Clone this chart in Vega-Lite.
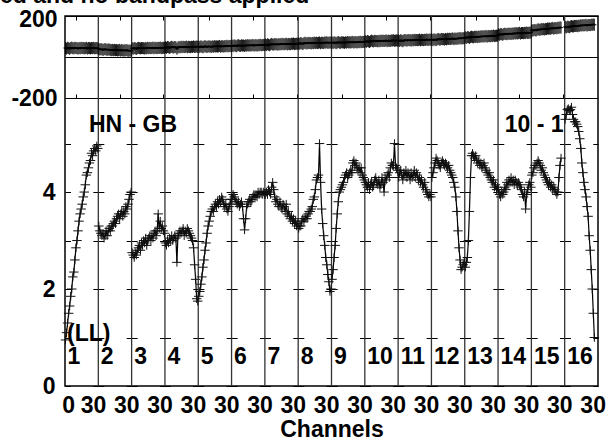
{
"$schema": "https://vega.github.io/schema/vega-lite/v6.json",
"width": 533, "height": 370,
"autosize": "none",
"padding": {"left": 65, "top": 16, "right": 8, "bottom": 54},
"background": "white",
"config": {
  "view": {"stroke": "black", "strokeWidth": 1.5},
  "font": "Liberation Sans",
  "axis": {"labelFont": "Liberation Sans", "labelFontWeight": "bold", "labelFontSize": 23, "labelColor": "black", "titleFont": "Liberation Sans", "titleFontWeight": "bold", "titleFontSize": 23, "titleColor": "black", "labelOverlap": false, "labelFlush": false, "labelBound": false}
},
"title": {"text": "ed and no bandpass applied", "anchor": "start", "frame": "group", "dx": -65, "offset": -18, "baseline": "alphabetic", "font": "Liberation Sans", "fontWeight": "bold", "fontSize": 23, "color": "black"},
"data": {"values": [
{"i":1,"c":0,"a":0.95,"p":44},{"i":1,"c":1,"a":1.1,"p":41},{"i":1,"c":2,"a":1.3,"p":45},{"i":1,"c":3,"a":1.5,"p":43},{"i":1,"c":4,"a":1.65,"p":40},{"i":1,"c":5,"a":1.85,"p":44},{"i":1,"c":6,"a":2.0,"p":46},{"i":1,"c":7,"a":2.25,"p":43},{"i":1,"c":8,"a":2.35,"p":42},{"i":1,"c":9,"a":2.6,"p":45},{"i":1,"c":10,"a":2.85,"p":44},{"i":1,"c":11,"a":3.0,"p":43},{"i":1,"c":12,"a":3.2,"p":41},{"i":1,"c":13,"a":3.4,"p":44},{"i":1,"c":14,"a":3.55,"p":42},{"i":1,"c":15,"a":3.65,"p":45},{"i":1,"c":16,"a":3.75,"p":43},{"i":1,"c":17,"a":3.9,"p":44},{"i":1,"c":18,"a":4.0,"p":42},{"i":1,"c":19,"a":4.15,"p":43},{"i":1,"c":20,"a":4.35,"p":45},{"i":1,"c":21,"a":4.4,"p":41},{"i":1,"c":22,"a":4.5,"p":44},{"i":1,"c":23,"a":4.6,"p":43},{"i":1,"c":24,"a":4.65,"p":42},{"i":1,"c":25,"a":4.8,"p":44},{"i":1,"c":26,"a":4.75,"p":43},{"i":1,"c":27,"a":4.85,"p":45},{"i":1,"c":28,"a":4.9,"p":42},{"i":1,"c":29,"a":4.85,"p":43},{"i":1,"c":30,"a":4.95,"p":44},{"i":1,"c":31,"a":4.9,"p":42},
{"i":2,"c":0,"a":3.3,"p":39},{"i":2,"c":1,"a":3.2,"p":36},{"i":2,"c":2,"a":3.15,"p":39},{"i":2,"c":3,"a":3.1,"p":37},{"i":2,"c":4,"a":3.15,"p":34},{"i":2,"c":5,"a":3.05,"p":37},{"i":2,"c":6,"a":3.1,"p":39},{"i":2,"c":7,"a":3.2,"p":36},{"i":2,"c":8,"a":3.1,"p":35},{"i":2,"c":9,"a":3.2,"p":37},{"i":2,"c":10,"a":3.25,"p":36},{"i":2,"c":11,"a":3.2,"p":35},{"i":2,"c":12,"a":3.3,"p":33},{"i":2,"c":13,"a":3.3,"p":35},{"i":2,"c":14,"a":3.35,"p":33},{"i":2,"c":15,"a":3.4,"p":35},{"i":2,"c":16,"a":3.35,"p":33},{"i":2,"c":17,"a":3.45,"p":34},{"i":2,"c":18,"a":3.5,"p":32},{"i":2,"c":19,"a":3.55,"p":33},{"i":2,"c":20,"a":3.45,"p":35},{"i":2,"c":21,"a":3.55,"p":31},{"i":2,"c":22,"a":3.6,"p":34},{"i":2,"c":23,"a":3.5,"p":32},{"i":2,"c":24,"a":3.6,"p":31},{"i":2,"c":25,"a":3.55,"p":33},{"i":2,"c":26,"a":3.7,"p":32},{"i":2,"c":27,"a":3.65,"p":34},{"i":2,"c":28,"a":3.75,"p":30},{"i":2,"c":29,"a":3.85,"p":31},{"i":2,"c":30,"a":3.95,"p":32},{"i":2,"c":31,"a":4.0,"p":30},
{"i":3,"c":0,"a":2.75,"p":43},{"i":3,"c":1,"a":2.7,"p":40},{"i":3,"c":2,"a":2.65,"p":44},{"i":3,"c":3,"a":2.75,"p":42},{"i":3,"c":4,"a":2.7,"p":39},{"i":3,"c":5,"a":2.8,"p":43},{"i":3,"c":6,"a":2.85,"p":45},{"i":3,"c":7,"a":2.9,"p":43},{"i":3,"c":8,"a":2.8,"p":42},{"i":3,"c":9,"a":2.95,"p":44},{"i":3,"c":10,"a":2.9,"p":43},{"i":3,"c":11,"a":3.0,"p":43},{"i":3,"c":12,"a":2.95,"p":41},{"i":3,"c":13,"a":3.05,"p":44},{"i":3,"c":14,"a":2.9,"p":42},{"i":3,"c":15,"a":3.0,"p":45},{"i":3,"c":16,"a":3.05,"p":43},{"i":3,"c":17,"a":3.1,"p":44},{"i":3,"c":18,"a":3.0,"p":43},{"i":3,"c":19,"a":3.1,"p":44},{"i":3,"c":20,"a":3.05,"p":46},{"i":3,"c":21,"a":3.15,"p":42},{"i":3,"c":22,"a":3.2,"p":45},{"i":3,"c":23,"a":3.1,"p":44},{"i":3,"c":24,"a":3.2,"p":43},{"i":3,"c":25,"a":3.55,"p":45},{"i":3,"c":26,"a":3.25,"p":44},{"i":3,"c":27,"a":3.4,"p":46},{"i":3,"c":28,"a":3.25,"p":43},{"i":3,"c":29,"a":3.3,"p":44},{"i":3,"c":30,"a":3.2,"p":45},{"i":3,"c":31,"a":3.15,"p":44},
{"i":4,"c":0,"a":2.95,"p":48},{"i":4,"c":1,"a":2.9,"p":45},{"i":4,"c":2,"a":3.0,"p":49},{"i":4,"c":3,"a":2.95,"p":47},{"i":4,"c":4,"a":3.05,"p":44},{"i":4,"c":5,"a":3.0,"p":48},{"i":4,"c":6,"a":3.1,"p":50},{"i":4,"c":7,"a":3.0,"p":47},{"i":4,"c":8,"a":3.05,"p":46},{"i":4,"c":9,"a":3.1,"p":49},{"i":4,"c":10,"a":3.05,"p":48},{"i":4,"c":11,"a":2.55,"p":40},{"i":4,"c":12,"a":3.1,"p":46},{"i":4,"c":13,"a":3.15,"p":49},{"i":4,"c":14,"a":3.2,"p":47},{"i":4,"c":15,"a":3.15,"p":50},{"i":4,"c":16,"a":3.2,"p":48},{"i":4,"c":17,"a":3.25,"p":50},{"i":4,"c":18,"a":3.1,"p":48},{"i":4,"c":19,"a":3.2,"p":49},{"i":4,"c":20,"a":3.15,"p":51},{"i":4,"c":21,"a":3.25,"p":47},{"i":4,"c":22,"a":3.2,"p":50},{"i":4,"c":23,"a":3.15,"p":49},{"i":4,"c":24,"a":3.1,"p":48},{"i":4,"c":25,"a":3.05,"p":50},{"i":4,"c":26,"a":3.0,"p":49},{"i":4,"c":27,"a":2.85,"p":52},{"i":4,"c":28,"a":2.5,"p":49},{"i":4,"c":29,"a":2.2,"p":50},{"i":4,"c":30,"a":1.8,"p":51},{"i":4,"c":31,"a":1.75,"p":50},
{"i":5,"c":0,"a":1.85,"p":51},{"i":5,"c":1,"a":1.95,"p":48},{"i":5,"c":2,"a":2.1,"p":52},{"i":5,"c":3,"a":2.25,"p":50},{"i":5,"c":4,"a":2.45,"p":47},{"i":5,"c":5,"a":2.6,"p":51},{"i":5,"c":6,"a":2.8,"p":53},{"i":5,"c":7,"a":2.95,"p":50},{"i":5,"c":8,"a":3.15,"p":49},{"i":5,"c":9,"a":3.3,"p":52},{"i":5,"c":10,"a":3.4,"p":51},{"i":5,"c":11,"a":3.5,"p":51},{"i":5,"c":12,"a":3.6,"p":49},{"i":5,"c":13,"a":3.65,"p":52},{"i":5,"c":14,"a":3.6,"p":50},{"i":5,"c":15,"a":3.7,"p":53},{"i":5,"c":16,"a":3.75,"p":51},{"i":5,"c":17,"a":3.7,"p":52},{"i":5,"c":18,"a":3.8,"p":51},{"i":5,"c":19,"a":3.75,"p":52},{"i":5,"c":20,"a":3.85,"p":54},{"i":5,"c":21,"a":3.8,"p":50},{"i":5,"c":22,"a":3.9,"p":53},{"i":5,"c":23,"a":3.85,"p":52},{"i":5,"c":24,"a":3.75,"p":51},{"i":5,"c":25,"a":3.7,"p":53},{"i":5,"c":26,"a":3.75,"p":52},{"i":5,"c":27,"a":3.65,"p":55},{"i":5,"c":28,"a":3.6,"p":52},{"i":5,"c":29,"a":3.7,"p":53},{"i":5,"c":30,"a":3.75,"p":54},{"i":5,"c":31,"a":3.85,"p":53},
{"i":6,"c":0,"a":3.85,"p":56},{"i":6,"c":1,"a":3.95,"p":53},{"i":6,"c":2,"a":3.9,"p":57},{"i":6,"c":3,"a":3.85,"p":55},{"i":6,"c":4,"a":3.8,"p":52},{"i":6,"c":5,"a":3.75,"p":56},{"i":6,"c":6,"a":3.8,"p":58},{"i":6,"c":7,"a":3.7,"p":55},{"i":6,"c":8,"a":3.75,"p":54},{"i":6,"c":9,"a":3.8,"p":57},{"i":6,"c":10,"a":3.7,"p":56},{"i":6,"c":11,"a":3.45,"p":56},{"i":6,"c":12,"a":3.22,"p":54},{"i":6,"c":13,"a":3.45,"p":57},{"i":6,"c":14,"a":3.7,"p":55},{"i":6,"c":15,"a":3.75,"p":58},{"i":6,"c":16,"a":3.8,"p":56},{"i":6,"c":17,"a":3.85,"p":57},{"i":6,"c":18,"a":3.8,"p":56},{"i":6,"c":19,"a":3.85,"p":57},{"i":6,"c":20,"a":3.9,"p":59},{"i":6,"c":21,"a":3.95,"p":55},{"i":6,"c":22,"a":3.9,"p":58},{"i":6,"c":23,"a":3.95,"p":57},{"i":6,"c":24,"a":3.9,"p":56},{"i":6,"c":25,"a":4.0,"p":58},{"i":6,"c":26,"a":3.95,"p":57},{"i":6,"c":27,"a":4.0,"p":60},{"i":6,"c":28,"a":4.0,"p":57},{"i":6,"c":29,"a":3.95,"p":58},{"i":6,"c":30,"a":4.0,"p":59},{"i":6,"c":31,"a":3.95,"p":58},
{"i":7,"c":0,"a":3.95,"p":61},{"i":7,"c":1,"a":4.0,"p":58},{"i":7,"c":2,"a":3.95,"p":62},{"i":7,"c":3,"a":4.05,"p":60},{"i":7,"c":4,"a":4.0,"p":57},{"i":7,"c":5,"a":3.95,"p":61},{"i":7,"c":6,"a":4.1,"p":64},{"i":7,"c":7,"a":4.2,"p":61},{"i":7,"c":8,"a":4.05,"p":60},{"i":7,"c":9,"a":3.9,"p":63},{"i":7,"c":10,"a":3.8,"p":62},{"i":7,"c":11,"a":3.85,"p":62},{"i":7,"c":12,"a":3.75,"p":60},{"i":7,"c":13,"a":3.7,"p":63},{"i":7,"c":14,"a":3.8,"p":61},{"i":7,"c":15,"a":3.7,"p":64},{"i":7,"c":16,"a":3.65,"p":62},{"i":7,"c":17,"a":3.75,"p":64},{"i":7,"c":18,"a":3.7,"p":62},{"i":7,"c":19,"a":3.6,"p":63},{"i":7,"c":20,"a":3.75,"p":65},{"i":7,"c":21,"a":3.55,"p":61},{"i":7,"c":22,"a":3.6,"p":64},{"i":7,"c":23,"a":3.5,"p":63},{"i":7,"c":24,"a":3.45,"p":62},{"i":7,"c":25,"a":3.5,"p":65},{"i":7,"c":26,"a":3.4,"p":64},{"i":7,"c":27,"a":3.45,"p":66},{"i":7,"c":28,"a":3.35,"p":63},{"i":7,"c":29,"a":3.4,"p":64},{"i":7,"c":30,"a":3.3,"p":65},{"i":7,"c":31,"a":3.35,"p":64},
{"i":8,"c":0,"a":3.25,"p":67},{"i":8,"c":1,"a":3.3,"p":64},{"i":8,"c":2,"a":3.3,"p":68},{"i":8,"c":3,"a":3.4,"p":66},{"i":8,"c":4,"a":3.45,"p":63},{"i":8,"c":5,"a":3.4,"p":67},{"i":8,"c":6,"a":3.45,"p":70},{"i":8,"c":7,"a":3.5,"p":67},{"i":8,"c":8,"a":3.45,"p":66},{"i":8,"c":9,"a":3.55,"p":69},{"i":8,"c":10,"a":3.6,"p":68},{"i":8,"c":11,"a":3.6,"p":68},{"i":8,"c":12,"a":3.65,"p":66},{"i":8,"c":13,"a":3.7,"p":69},{"i":8,"c":14,"a":3.85,"p":67},{"i":8,"c":15,"a":3.9,"p":70},{"i":8,"c":16,"a":4.05,"p":68},{"i":8,"c":17,"a":4.25,"p":70},{"i":8,"c":18,"a":4.3,"p":68},{"i":8,"c":19,"a":4.35,"p":69},{"i":8,"c":20,"a":5.0,"p":71},{"i":8,"c":21,"a":4.2,"p":67},{"i":8,"c":22,"a":3.65,"p":70},{"i":8,"c":23,"a":3.35,"p":69},{"i":8,"c":24,"a":3.1,"p":68},{"i":8,"c":25,"a":2.9,"p":71},{"i":8,"c":26,"a":2.65,"p":70},{"i":8,"c":27,"a":2.5,"p":72},{"i":8,"c":28,"a":2.3,"p":69},{"i":8,"c":29,"a":2.15,"p":70},{"i":8,"c":30,"a":1.95,"p":71},{"i":8,"c":31,"a":2.0,"p":70},
{"i":9,"c":0,"a":2.2,"p":71},{"i":9,"c":1,"a":2.4,"p":68},{"i":9,"c":2,"a":2.65,"p":72},{"i":9,"c":3,"a":2.9,"p":70},{"i":9,"c":4,"a":3.25,"p":67},{"i":9,"c":5,"a":3.55,"p":71},{"i":9,"c":6,"a":3.8,"p":73},{"i":9,"c":7,"a":4.0,"p":70},{"i":9,"c":8,"a":4.05,"p":69},{"i":9,"c":9,"a":4.1,"p":72},{"i":9,"c":10,"a":4.15,"p":71},{"i":9,"c":11,"a":4.2,"p":71},{"i":9,"c":12,"a":4.3,"p":69},{"i":9,"c":13,"a":4.35,"p":72},{"i":9,"c":14,"a":4.4,"p":70},{"i":9,"c":15,"a":4.3,"p":73},{"i":9,"c":16,"a":4.35,"p":71},{"i":9,"c":17,"a":4.4,"p":72},{"i":9,"c":18,"a":4.45,"p":71},{"i":9,"c":19,"a":4.4,"p":72},{"i":9,"c":20,"a":4.6,"p":74},{"i":9,"c":21,"a":4.65,"p":70},{"i":9,"c":22,"a":4.55,"p":73},{"i":9,"c":23,"a":4.6,"p":72},{"i":9,"c":24,"a":4.5,"p":71},{"i":9,"c":25,"a":4.45,"p":73},{"i":9,"c":26,"a":4.5,"p":72},{"i":9,"c":27,"a":4.4,"p":75},{"i":9,"c":28,"a":4.5,"p":72},{"i":9,"c":29,"a":4.35,"p":73},{"i":9,"c":30,"a":4.3,"p":74},{"i":9,"c":31,"a":4.25,"p":73},
{"i":10,"c":0,"a":4.2,"p":77},{"i":10,"c":1,"a":4.15,"p":74},{"i":10,"c":2,"a":4.1,"p":78},{"i":10,"c":3,"a":4.2,"p":76},{"i":10,"c":4,"a":4.05,"p":73},{"i":10,"c":5,"a":4.15,"p":77},{"i":10,"c":6,"a":4.2,"p":80},{"i":10,"c":7,"a":4.1,"p":77},{"i":10,"c":8,"a":4.15,"p":76},{"i":10,"c":9,"a":4.25,"p":79},{"i":10,"c":10,"a":4.3,"p":78},{"i":10,"c":11,"a":4.2,"p":78},{"i":10,"c":12,"a":4.15,"p":76},{"i":10,"c":13,"a":4.25,"p":79},{"i":10,"c":14,"a":4.1,"p":77},{"i":10,"c":15,"a":4.15,"p":80},{"i":10,"c":16,"a":4.3,"p":78},{"i":10,"c":17,"a":4.2,"p":80},{"i":10,"c":18,"a":4.0,"p":78},{"i":10,"c":19,"a":4.3,"p":79},{"i":10,"c":20,"a":4.25,"p":81},{"i":10,"c":21,"a":4.35,"p":77},{"i":10,"c":22,"a":4.4,"p":80},{"i":10,"c":23,"a":4.3,"p":79},{"i":10,"c":24,"a":4.5,"p":78},{"i":10,"c":25,"a":4.6,"p":81},{"i":10,"c":26,"a":4.55,"p":80},{"i":10,"c":27,"a":4.55,"p":82},{"i":10,"c":28,"a":5.0,"p":79},{"i":10,"c":29,"a":4.55,"p":80},{"i":10,"c":30,"a":4.5,"p":81},{"i":10,"c":31,"a":4.45,"p":80},
{"i":11,"c":0,"a":4.3,"p":81},{"i":11,"c":1,"a":4.4,"p":78},{"i":11,"c":2,"a":4.45,"p":82},{"i":11,"c":3,"a":4.35,"p":80},{"i":11,"c":4,"a":4.25,"p":77},{"i":11,"c":5,"a":4.4,"p":81},{"i":11,"c":6,"a":4.35,"p":83},{"i":11,"c":7,"a":4.45,"p":81},{"i":11,"c":8,"a":4.3,"p":80},{"i":11,"c":9,"a":4.4,"p":83},{"i":11,"c":10,"a":4.35,"p":82},{"i":11,"c":11,"a":4.25,"p":82},{"i":11,"c":12,"a":4.4,"p":80},{"i":11,"c":13,"a":4.3,"p":83},{"i":11,"c":14,"a":4.35,"p":81},{"i":11,"c":15,"a":4.45,"p":84},{"i":11,"c":16,"a":4.3,"p":82},{"i":11,"c":17,"a":4.4,"p":83},{"i":11,"c":18,"a":4.35,"p":82},{"i":11,"c":19,"a":4.25,"p":83},{"i":11,"c":20,"a":4.3,"p":85},{"i":11,"c":21,"a":4.2,"p":81},{"i":11,"c":22,"a":4.25,"p":84},{"i":11,"c":23,"a":4.15,"p":83},{"i":11,"c":24,"a":4.1,"p":82},{"i":11,"c":25,"a":4.2,"p":84},{"i":11,"c":26,"a":4.05,"p":83},{"i":11,"c":27,"a":4.0,"p":86},{"i":11,"c":28,"a":3.95,"p":83},{"i":11,"c":29,"a":3.9,"p":84},{"i":11,"c":30,"a":3.95,"p":85},{"i":11,"c":31,"a":3.9,"p":84},
{"i":12,"c":0,"a":4.3,"p":85},{"i":12,"c":1,"a":4.4,"p":82},{"i":12,"c":2,"a":4.5,"p":86},{"i":12,"c":3,"a":4.6,"p":84},{"i":12,"c":4,"a":4.7,"p":82},{"i":12,"c":5,"a":4.65,"p":86},{"i":12,"c":6,"a":4.6,"p":88},{"i":12,"c":7,"a":4.55,"p":85},{"i":12,"c":8,"a":4.5,"p":85},{"i":12,"c":9,"a":4.6,"p":88},{"i":12,"c":10,"a":4.65,"p":87},{"i":12,"c":11,"a":4.6,"p":87},{"i":12,"c":12,"a":4.55,"p":85},{"i":12,"c":13,"a":4.6,"p":88},{"i":12,"c":14,"a":4.55,"p":86},{"i":12,"c":15,"a":4.5,"p":89},{"i":12,"c":16,"a":4.55,"p":88},{"i":12,"c":17,"a":4.45,"p":89},{"i":12,"c":18,"a":4.4,"p":88},{"i":12,"c":19,"a":4.35,"p":89},{"i":12,"c":20,"a":4.3,"p":91},{"i":12,"c":21,"a":4.2,"p":87},{"i":12,"c":22,"a":4.1,"p":90},{"i":12,"c":23,"a":3.9,"p":89},{"i":12,"c":24,"a":3.6,"p":89},{"i":12,"c":25,"a":3.2,"p":91},{"i":12,"c":26,"a":2.85,"p":90},{"i":12,"c":27,"a":2.6,"p":93},{"i":12,"c":28,"a":2.4,"p":90},{"i":12,"c":29,"a":2.45,"p":91},{"i":12,"c":30,"a":2.5,"p":92},{"i":12,"c":31,"a":2.55,"p":91},
{"i":13,"c":0,"a":2.45,"p":96},{"i":13,"c":1,"a":2.55,"p":93},{"i":13,"c":2,"a":2.65,"p":97},{"i":13,"c":3,"a":3.0,"p":96},{"i":13,"c":4,"a":3.6,"p":93},{"i":13,"c":5,"a":4.3,"p":97},{"i":13,"c":6,"a":4.75,"p":99},{"i":13,"c":7,"a":4.8,"p":97},{"i":13,"c":8,"a":4.75,"p":96},{"i":13,"c":9,"a":4.7,"p":99},{"i":13,"c":10,"a":4.75,"p":98},{"i":13,"c":11,"a":4.65,"p":99},{"i":13,"c":12,"a":4.6,"p":97},{"i":13,"c":13,"a":4.65,"p":100},{"i":13,"c":14,"a":4.55,"p":98},{"i":13,"c":15,"a":4.6,"p":101},{"i":13,"c":16,"a":4.5,"p":100},{"i":13,"c":17,"a":4.55,"p":101},{"i":13,"c":18,"a":4.6,"p":100},{"i":13,"c":19,"a":4.5,"p":101},{"i":13,"c":20,"a":4.45,"p":103},{"i":13,"c":21,"a":4.4,"p":99},{"i":13,"c":22,"a":4.35,"p":102},{"i":13,"c":23,"a":4.4,"p":102},{"i":13,"c":24,"a":4.3,"p":101},{"i":13,"c":25,"a":4.25,"p":103},{"i":13,"c":26,"a":4.2,"p":102},{"i":13,"c":27,"a":4.25,"p":105},{"i":13,"c":28,"a":4.1,"p":102},{"i":13,"c":29,"a":4.15,"p":103},{"i":13,"c":30,"a":4.05,"p":104},{"i":13,"c":31,"a":4.1,"p":104},
{"i":14,"c":0,"a":4.05,"p":111},{"i":14,"c":1,"a":3.95,"p":108},{"i":14,"c":2,"a":3.9,"p":112},{"i":14,"c":3,"a":4.0,"p":111},{"i":14,"c":4,"a":3.95,"p":108},{"i":14,"c":5,"a":4.0,"p":112},{"i":14,"c":6,"a":4.1,"p":114},{"i":14,"c":7,"a":4.05,"p":112},{"i":14,"c":8,"a":4.2,"p":111},{"i":14,"c":9,"a":4.15,"p":114},{"i":14,"c":10,"a":4.25,"p":113},{"i":14,"c":11,"a":4.2,"p":114},{"i":14,"c":12,"a":4.3,"p":112},{"i":14,"c":13,"a":4.2,"p":115},{"i":14,"c":14,"a":4.25,"p":113},{"i":14,"c":15,"a":4.15,"p":116},{"i":14,"c":16,"a":4.25,"p":115},{"i":14,"c":17,"a":4.2,"p":116},{"i":14,"c":18,"a":4.15,"p":115},{"i":14,"c":19,"a":4.2,"p":116},{"i":14,"c":20,"a":4.15,"p":118},{"i":14,"c":21,"a":4.1,"p":114},{"i":14,"c":22,"a":4.05,"p":117},{"i":14,"c":23,"a":3.95,"p":117},{"i":14,"c":24,"a":3.9,"p":116},{"i":14,"c":25,"a":4.0,"p":118},{"i":14,"c":26,"a":3.65,"p":117},{"i":14,"c":27,"a":3.95,"p":120},{"i":14,"c":28,"a":4.05,"p":117},{"i":14,"c":29,"a":4.15,"p":118},{"i":14,"c":30,"a":4.2,"p":119},{"i":14,"c":31,"a":4.1,"p":119},
{"i":15,"c":0,"a":4.35,"p":131},{"i":15,"c":1,"a":4.4,"p":128},{"i":15,"c":2,"a":4.5,"p":132},{"i":15,"c":3,"a":4.55,"p":131},{"i":15,"c":4,"a":4.55,"p":129},{"i":15,"c":5,"a":4.6,"p":133},{"i":15,"c":6,"a":4.65,"p":135},{"i":15,"c":7,"a":4.6,"p":133},{"i":15,"c":8,"a":4.55,"p":133},{"i":15,"c":9,"a":4.45,"p":136},{"i":15,"c":10,"a":4.5,"p":135},{"i":15,"c":11,"a":4.4,"p":136},{"i":15,"c":12,"a":4.35,"p":134},{"i":15,"c":13,"a":4.3,"p":137},{"i":15,"c":14,"a":4.25,"p":136},{"i":15,"c":15,"a":4.2,"p":139},{"i":15,"c":16,"a":4.15,"p":138},{"i":15,"c":17,"a":4.2,"p":139},{"i":15,"c":18,"a":4.1,"p":138},{"i":15,"c":19,"a":4.15,"p":140},{"i":15,"c":20,"a":4.05,"p":142},{"i":15,"c":21,"a":4.1,"p":138},{"i":15,"c":22,"a":4.05,"p":141},{"i":15,"c":23,"a":4.0,"p":141},{"i":15,"c":24,"a":3.95,"p":140},{"i":15,"c":25,"a":4.0,"p":143},{"i":15,"c":26,"a":4.3,"p":142},{"i":15,"c":27,"a":4.55,"p":145},{"i":15,"c":28,"a":4.7,"p":143},
{"i":16,"c":0,"a":5.5,"p":147},{"i":16,"c":1,"a":5.6,"p":144},{"i":16,"c":2,"a":5.7,"p":148},{"i":16,"c":3,"a":5.72,"p":147},{"i":16,"c":4,"a":5.68,"p":145},{"i":16,"c":5,"a":5.7,"p":149},{"i":16,"c":6,"a":5.75,"p":151},{"i":16,"c":7,"a":5.6,"p":149},{"i":16,"c":8,"a":5.5,"p":149},{"i":16,"c":9,"a":5.45,"p":152},{"i":16,"c":10,"a":5.45,"p":151},{"i":16,"c":11,"a":5.4,"p":152},{"i":16,"c":12,"a":5.35,"p":150},{"i":16,"c":13,"a":5.25,"p":153},{"i":16,"c":14,"a":5.1,"p":152},{"i":16,"c":15,"a":4.9,"p":155},{"i":16,"c":16,"a":4.6,"p":154},{"i":16,"c":17,"a":4.4,"p":155},{"i":16,"c":18,"a":4.2,"p":154},{"i":16,"c":19,"a":4.05,"p":155},{"i":16,"c":20,"a":3.9,"p":157},{"i":16,"c":21,"a":3.7,"p":153},{"i":16,"c":22,"a":3.5,"p":156},{"i":16,"c":23,"a":3.1,"p":156},{"i":16,"c":24,"a":2.8,"p":155},{"i":16,"c":25,"a":2.4,"p":158},{"i":16,"c":26,"a":2.0,"p":157},{"i":16,"c":27,"a":1.5,"p":159},{"i":16,"c":28,"a":1.0,"p":157}
]},
"transform": [{"calculate": "(datum.i-1)*32+datum.c", "as": "x"}],
"layer": [
  {
    "transform": [{"filter": "datum.c == 0 && datum.i > 1"}, {"calculate": "datum.x - 0.5", "as": "xb"}],
    "mark": {"type": "rule", "stroke": "#333333", "strokeWidth": 1.3},
    "encoding": {
      "x": {"field": "xb", "type": "quantitative", "scale": {"domain": [-0.5, 511.5], "nice": false, "zero": false},
            "axis": {"orient": "bottom", "title": "Channels", "titleBaseline": "alphabetic", "titleY": 50, "ticks": false, "domain": false, "grid": false, "labelPadding": 8, "labelAlign": "right", "labelOffset": 9, "labelOverlap": false, "labelFlush": false, "labelBound": false,
                     "values": [0,30,62,94,126,158,190,222,254,286,318,350,382,414,446,478,510],
                     "labelExpr": "datum.value == 0 ? '0' : '30'"}}
    }
  },
  {
    "layer": [
      {
        "mark": {"type": "line", "stroke": "black", "strokeWidth": 1.5},
        "encoding": {
          "x": {"field": "x", "type": "quantitative", "scale": {"domain": [-0.5, 511.5], "nice": false, "zero": false},
                "axis": {"orient": "top", "title": null, "labels": false, "ticks": false, "domain": false, "grid": true, "gridColor": "black", "gridWidth": 1, "gridDash": [4, 74, 8, 280, 4],
                         "values": [10,20,30,42,52,62,74,84,94,106,116,126,138,148,158,170,180,190,202,212,222,234,244,254,266,276,286,298,308,318,330,340,350,362,372,382,394,404,414,426,436,446,458,468,478,490,500,510]}},
          "y": {"field": "p", "type": "quantitative", "scale": {"domain": [-200, 200], "range": [82, 0], "nice": false, "zero": false},
                "axis": {"orient": "left", "title": null, "values": [-200, 0, 200], "labelExpr": "datum.value == 0 ? '' : '' + datum.value", "ticks": false, "domain": false, "grid": true, "gridColor": "black", "gridWidth": 1.2, "labelPadding": 8, "labelBaseline": "middle", "labelOffset": {"condition": {"test": "datum.value == 200", "value": 3}, "value": 0}}},
          "detail": {"field": "i", "type": "nominal"}
        }
      },
      {
        "mark": {"type": "point", "shape": "M-0.35,0H0.35M0,-1V1", "size": 144, "stroke": "#000000", "strokeWidth": 1, "filled": false, "opacity": 0.9},
        "encoding": {
          "x": {"field": "x", "type": "quantitative"},
          "y": {"field": "p", "type": "quantitative"}
        }
      }
    ]
  },
  {
    "layer": [
      {
        "mark": {"type": "line", "stroke": "black", "strokeWidth": 1.2},
        "encoding": {
          "x": {"field": "x", "type": "quantitative", "axis": null},
          "y": {"field": "a", "type": "quantitative", "scale": {"domain": [0, 5.94], "range": [370, 82], "nice": false, "zero": false},
                "axis": {"orient": "left", "title": null, "values": [0, 1, 2, 3, 4, 5], "labelExpr": "datum.value % 2 == 0 ? '' + datum.value : ''", "ticks": false, "domain": false, "grid": true, "gridColor": "black", "gridWidth": 1, "gridDash": [11, 22.33], "gridDashOffset": 5.5, "labelPadding": 10, "labelBaseline": "middle", "labelOverlap": false}},
          "detail": {"field": "i", "type": "nominal"}
        }
      },
      {
        "mark": {"type": "point", "shape": "M-1,0H1M0,-0.9V0.9", "size": 90, "stroke": "#111111", "strokeWidth": 1, "filled": false, "opacity": 1},
        "encoding": {
          "x": {"field": "x", "type": "quantitative", "axis": null},
          "y": {"field": "a", "type": "quantitative"}
        }
      },
      {
        "transform": [{"filter": "datum.c == 0"}],
        "mark": {"type": "text", "align": "left", "baseline": "alphabetic", "dx": 2, "font": "Liberation Sans", "fontWeight": "bold", "fontSize": 23, "color": "black"},
        "encoding": {
          "x": {"field": "x", "type": "quantitative", "axis": null},
          "y": {"datum": 0.45, "type": "quantitative"},
          "text": {"field": "i", "type": "nominal"}
        }
      },
      {
        "data": {"values": [
          {"t": "HN - GB", "x": 22.5, "a": 5.24},
          {"t": "10 - 1", "x": 422, "a": 5.24},
          {"t": "(LL)", "x": 1.4, "a": 0.93}
        ]},
        "mark": {"type": "text", "align": "left", "baseline": "alphabetic", "font": "Liberation Sans", "fontWeight": "bold", "fontSize": 23, "color": "black"},
        "encoding": {
          "x": {"field": "x", "type": "quantitative", "axis": null},
          "y": {"field": "a", "type": "quantitative"},
          "text": {"field": "t", "type": "nominal"}
        }
      }
    ]
  }
],
"resolve": {"scale": {"y": "independent"}, "axis": {"x": "independent", "y": "independent"}}
}
